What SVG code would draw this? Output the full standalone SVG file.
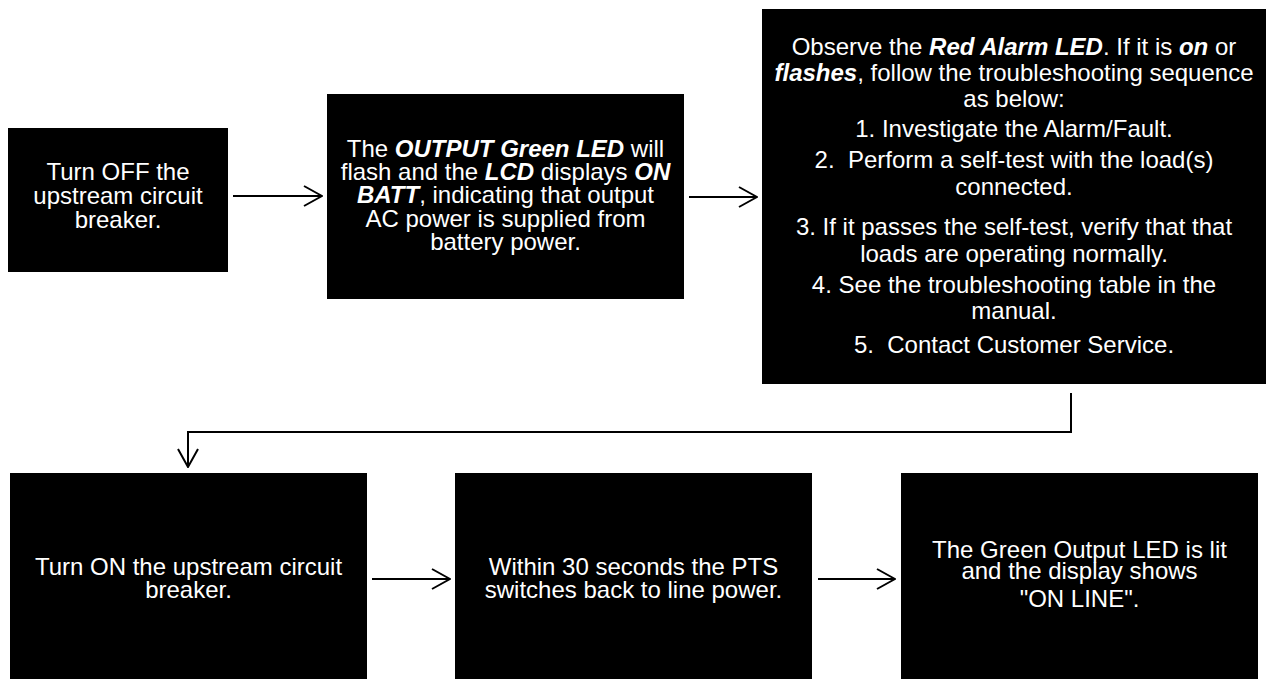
<svg xmlns="http://www.w3.org/2000/svg" width="1266" height="679" viewBox="0 0 1266 679">
  <style>
    .box { fill: #000000; }
    .t { font-family: "Liberation Sans", Arial, sans-serif; font-size: 24px; fill: #ffffff; text-anchor: middle; }
    .bi { font-weight: bold; font-style: italic; }
    .conn { fill: none; stroke: #000000; stroke-width: 2; }
  </style>
  <defs>
    <marker id="arr" viewBox="0 0 20 24" refX="19" refY="12" markerWidth="20" markerHeight="24" markerUnits="userSpaceOnUse" orient="auto">
      <path d="M1,2 L19,12 L1,22" fill="none" stroke="#000000" stroke-width="2"/>
    </marker>
  </defs>
  <rect width="1266" height="679" fill="#ffffff"/>

  <g id="node-turn-off">
    <rect class="box" x="8" y="128" width="220" height="144"/>
    <text class="t"><tspan x="118" y="180">Turn OFF the</tspan><tspan x="118" y="204">upstream circuit</tspan><tspan x="118" y="228">breaker.</tspan></text>
  </g>

  <g id="node-on-batt">
    <rect class="box" x="327" y="94" width="357" height="205"/>
    <text class="t" x="505.5" y="157">The <tspan class="bi">OUTPUT Green LED</tspan> will</text>
    <text class="t" x="505.5" y="180">flash and the <tspan class="bi">LCD</tspan> displays <tspan class="bi">ON</tspan></text>
    <text class="t" x="505.5" y="203"><tspan class="bi">BATT</tspan>, indicating that output</text>
    <text class="t" x="505.5" y="227">AC power is supplied from</text>
    <text class="t" x="505.5" y="250">battery power.</text>
  </g>

  <g id="node-alarm">
    <rect class="box" x="762" y="9" width="504" height="375"/>
    <text class="t" x="1014" y="55">Observe the <tspan class="bi">Red Alarm LED</tspan>. If it is <tspan class="bi">on</tspan> or</text>
    <text class="t" x="1014" y="81"><tspan class="bi">flashes</tspan>, follow the troubleshooting sequence</text>
    <text class="t" x="1014" y="107">as below:</text>
    <text class="t" x="1014" y="137">1. Investigate the Alarm/Fault.</text>
    <text class="t" x="1014" y="168" xml:space="preserve">2.  Perform a self-test with the load(s)</text>
    <text class="t" x="1014" y="195">connected.</text>
    <text class="t" x="1014" y="235">3. If it passes the self-test, verify that that</text>
    <text class="t" x="1014" y="262">loads are operating normally.</text>
    <text class="t" x="1014" y="293">4. See the troubleshooting table in the</text>
    <text class="t" x="1014" y="319">manual.</text>
    <text class="t" x="1014" y="353" xml:space="preserve">5.  Contact Customer Service.</text>
  </g>

  <g id="node-turn-on">
    <rect class="box" x="10" y="473" width="357" height="210"/>
    <text class="t"><tspan x="188.5" y="575">Turn ON the upstream circuit</tspan><tspan x="188.5" y="598">breaker.</tspan></text>
  </g>

  <g id="node-pts">
    <rect class="box" x="455" y="473" width="357" height="210"/>
    <text class="t"><tspan x="633.5" y="575">Within 30 seconds the PTS</tspan><tspan x="633.5" y="598">switches back to line power.</tspan></text>
  </g>

  <g id="node-online">
    <rect class="box" x="901" y="473" width="357" height="210"/>
    <text class="t"><tspan x="1079.5" y="558">The Green Output LED is lit</tspan><tspan x="1079.5" y="579">and the display shows</tspan><tspan x="1079.5" y="607">"ON LINE".</tspan></text>
  </g>

  <g id="connectors">
    <path class="conn" d="M233,196 L322,196" marker-end="url(#arr)"/>
    <path class="conn" d="M689,197 L757,197" marker-end="url(#arr)"/>
    <path class="conn" d="M1071,393 L1071,432 L188,432 L188,467" marker-end="url(#arr)"/>
    <path class="conn" d="M372,579 L450,579" marker-end="url(#arr)"/>
    <path class="conn" d="M818,579 L895,579" marker-end="url(#arr)"/>
  </g>
</svg>
